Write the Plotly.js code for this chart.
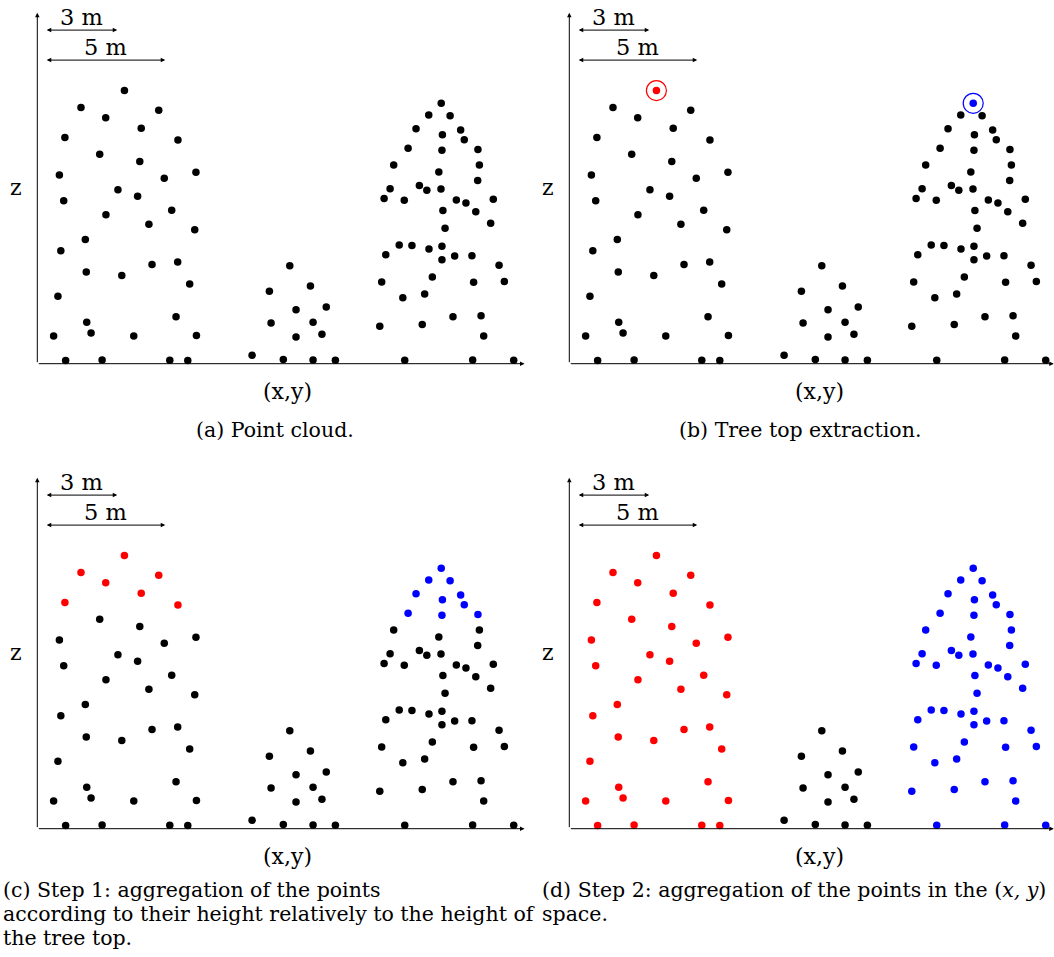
<!DOCTYPE html>
<html>
<head>
<meta charset="utf-8">
<script src="https://cdn.plot.ly/plotly-3.0.1.min.js"></script>
<style>html,body{margin:0;padding:0;background:#fff;}#chart{width:1054px;height:957px;}</style>
</head>
<body>
<div id="chart"></div>
<script>
// ---- Data (metres): horizontal position (x,y) and height z of each LiDAR point ----
const tree1X = [3.63,1.82,2.85,5.06,4.33,1.15,5.86,2.60,4.27,0.92,6.61,5.29,3.36,4.18,1.10,2.86,5.60,4.65,6.56,2.00,0.98,2.04,3.52,4.78,5.85,6.35,0.86,2.06,2.24,0.68,4.02,5.78,6.63,1.18,2.70,5.52,6.27];
const tree1Z = [11.38,10.67,10.25,10.56,9.81,9.43,9.32,8.73,8.42,7.86,7.98,7.73,7.25,6.98,6.79,6.21,6.39,5.81,5.58,5.17,4.71,3.82,3.67,4.13,4.24,3.32,2.81,1.73,1.28,1.15,1.15,1.96,1.17,0.13,0.15,0.14,0.13];
const tree2X = [10.52,9.67,11.38,10.78,12.04,9.74,11.49,10.78,11.86,8.95,10.25,11.49,12.42];
const tree2Z = [4.08,3.02,3.24,2.25,2.36,1.70,1.73,1.11,1.23,0.35,0.17,0.15,0.14];
const tree3X = [16.83,16.31,17.20,15.78,17.64,16.88,17.79,15.45,16.86,18.36,14.85,18.42,16.73,18.35,14.70,15.92,16.23,16.82,14.45,15.29,17.46,17.86,19.00,16.90,18.27,18.89,16.99,15.08,15.61,14.52,16.32,16.86,16.86,17.39,18.11,19.24,14.35,16.46,18.18,19.46,15.23,16.14,17.32,18.49,14.27,16.04,18.60,15.31,18.14,19.85];
const tree3Z = [10.85,10.36,10.33,9.79,9.74,9.54,9.33,8.98,8.89,8.92,8.28,8.28,7.99,7.63,7.29,7.43,7.23,7.28,6.88,6.81,6.82,6.70,6.85,6.38,6.33,5.85,5.64,4.95,4.93,4.54,4.78,4.89,4.33,4.49,4.50,4.10,3.40,3.61,3.39,3.42,2.75,2.90,1.96,2.00,1.56,1.63,1.15,0.14,0.15,0.14];
const scaleBars = [3, 5];              // scale bar lengths (m)
const topDepth = 2.2;                  // height band below the tree top used in step 1 (m)
const captionA = "(a) Point cloud.";
const captionB = "(b) Tree top extraction.";
const captionC = ["(c) Step 1: aggregation of the points", "according to their height relatively to the height of", "the tree top."];
const captionD = ["(d) Step 2: aggregation of the points in the (<i>x, y</i>)", "space."];

// ---- Layout helpers ----
const W = 1054, H = 957, PXM = 24;
const FONT = "DejaVu Serif, Liberation Serif, serif";
const RED = "#ff0000", BLUE = "#0000ff", BLACK = "#000000";
const panels = [
  {ox: 37.3, oy: 363.7, wpx: 492},
  {ox: 569.3, oy: 363.7, wpx: 484.7},
  {ox: 37.3, oy: 828.7, wpx: 492},
  {ox: 569.3, oy: 828.7, wpx: 484.7}
];
const allX = tree1X.concat(tree2X, tree3X);
const allZ = tree1Z.concat(tree2Z, tree3Z);
function argmax(a){let k=0;for(let i=1;i<a.length;i++) if(a[i]>a[k]) k=i;return k;}
const top1 = argmax(tree1Z), top3 = argmax(tree3Z);
function sel(xs, zs, f){const X=[],Z=[];xs.forEach((x,i)=>{if(f(zs[i],i)){X.push(x);Z.push(zs[i]);}});return {X,Z};}

const layout = {width: W, height: H, margin: {l:0,r:0,t:0,b:0}, showlegend: false,
  paper_bgcolor: "#fff", plot_bgcolor: "rgba(0,0,0,0)", annotations: [], font: {family: FONT, color: "#000"}};
const data = [];
function txt(px, py, text, size, xanchor){
  return {xref: "paper", yref: "paper", x: px / W, y: 1 - py / H, xanchor: xanchor || "center", yanchor: "middle", text: text, showarrow: false, font: {size: size, family: FONT, color: "#000"}};
}
panels.forEach((p, i) => {
  const n = i === 0 ? "" : String(i + 1);
  const xr = p.wpx / PXM, yr = 15;
  layout["xaxis" + n] = {domain: [p.ox / W, (p.ox + p.wpx) / W], range: [0, xr], visible: false, fixedrange: true, anchor: "y" + n};
  layout["yaxis" + n] = {domain: [1 - p.oy / H, 1 - (p.oy - yr * PXM) / H], range: [0, yr], visible: false, fixedrange: true, anchor: "x" + n};
  const xa = "x" + n, ya = "y" + n;
  // axes arrows
  layout.annotations.push({xref: xa, yref: ya, axref: xa, ayref: ya, x: Math.min(20.3, xr - 0.01), y: 0, ax: 0, ay: 0, text: "", showarrow: true, arrowhead: 2, arrowsize: 0.9, arrowwidth: 1, arrowcolor: "#000"});
  layout.annotations.push({xref: xa, yref: ya, axref: xa, ayref: ya, x: 0, y: 14.62, ax: 0, ay: 0, text: "", showarrow: true, arrowhead: 2, arrowsize: 0.9, arrowwidth: 1, arrowcolor: "#000"});
  // scale bars
  const barZ = [13.9, 12.65], labZ = [14.45, 13.2];
  scaleBars.forEach((L, j) => {
    layout.annotations.push({xref: xa, yref: ya, axref: xa, ayref: ya, x: 0.33 + L, y: barZ[j], ax: 0.33, ay: barZ[j], text: "", showarrow: true, arrowhead: 2, startarrowhead: 2, arrowside: "end+start", arrowsize: 0.9, startarrowsize: 0.9, arrowwidth: 1, arrowcolor: "#000"});
    layout.annotations.push({xref: xa, yref: ya, x: 0.33 + L / 2, y: labZ[j], xanchor: "center", yanchor: "middle", text: L + " m", showarrow: false, font: {size: 22.5, family: FONT}});
  });
  // axis labels
  layout.annotations.push(txt(p.ox - 21, p.oy - 176, "z", 22));
  layout.annotations.push(txt(p.ox + 250, p.oy + 28, "(x,y)", 22));
});

function pts(X, Z, color, n, extra){return Object.assign({type: "scatter", mode: "markers", x: X, y: Z, xaxis: "x" + n, yaxis: "y" + n, cliponaxis: false, hoverinfo: "skip", marker: {size: 7.5, color: color, line: {width: 0}}}, extra || {});}

// (a) point cloud
data.push(pts(allX, allZ, BLACK, ""));
// (b) tree tops
const b1 = sel(tree1X, tree1Z, (z, i) => i !== top1), b3 = sel(tree3X, tree3Z, (z, i) => i !== top3);
data.push(pts(b1.X.concat(tree2X, b3.X), b1.Z.concat(tree2Z, b3.Z), BLACK, "2"));
data.push(pts([tree1X[top1]], [tree1Z[top1]], RED, "2"));
data.push(pts([tree3X[top3]], [tree3Z[top3]], BLUE, "2"));
data.push(pts([tree1X[top1]], [tree1Z[top1]], RED, "2", {marker: {size: 20, symbol: "circle-open", color: RED, line: {width: 1.2, color: RED}}}));
data.push(pts([tree3X[top3]], [tree3Z[top3]], BLUE, "2", {marker: {size: 20, symbol: "circle-open", color: BLUE, line: {width: 1.2, color: BLUE}}}));
// (c) step 1
const h1 = tree1Z[top1], h3 = tree3Z[top3];
const c1in = sel(tree1X, tree1Z, z => h1 - z <= topDepth), c1out = sel(tree1X, tree1Z, z => h1 - z > topDepth);
const c3in = sel(tree3X, tree3Z, z => h3 - z <= topDepth), c3out = sel(tree3X, tree3Z, z => h3 - z > topDepth);
data.push(pts(c1out.X.concat(tree2X, c3out.X), c1out.Z.concat(tree2Z, c3out.Z), BLACK, "3"));
data.push(pts(c1in.X, c1in.Z, RED, "3"));
data.push(pts(c3in.X, c3in.Z, BLUE, "3"));
// (d) step 2
data.push(pts(tree1X, tree1Z, RED, "4"));
data.push(pts(tree2X, tree2Z, BLACK, "4"));
data.push(pts(tree3X, tree3Z, BLUE, "4"));

// captions
const CS = 20.5;
layout.annotations.push(txt(275, 430, captionA, CS));
layout.annotations.push(txt(800, 430, captionB, CS));
captionC.forEach((t, k) => layout.annotations.push(txt(1, 890 + 24 * k, t, CS, "left")));
captionD.forEach((t, k) => layout.annotations.push(txt(540, 890 + 24 * k, t, CS, "left")));

Plotly.newPlot("chart", data, layout, {staticPlot: true, displayModeBar: false});
</script>
</body>
</html>
